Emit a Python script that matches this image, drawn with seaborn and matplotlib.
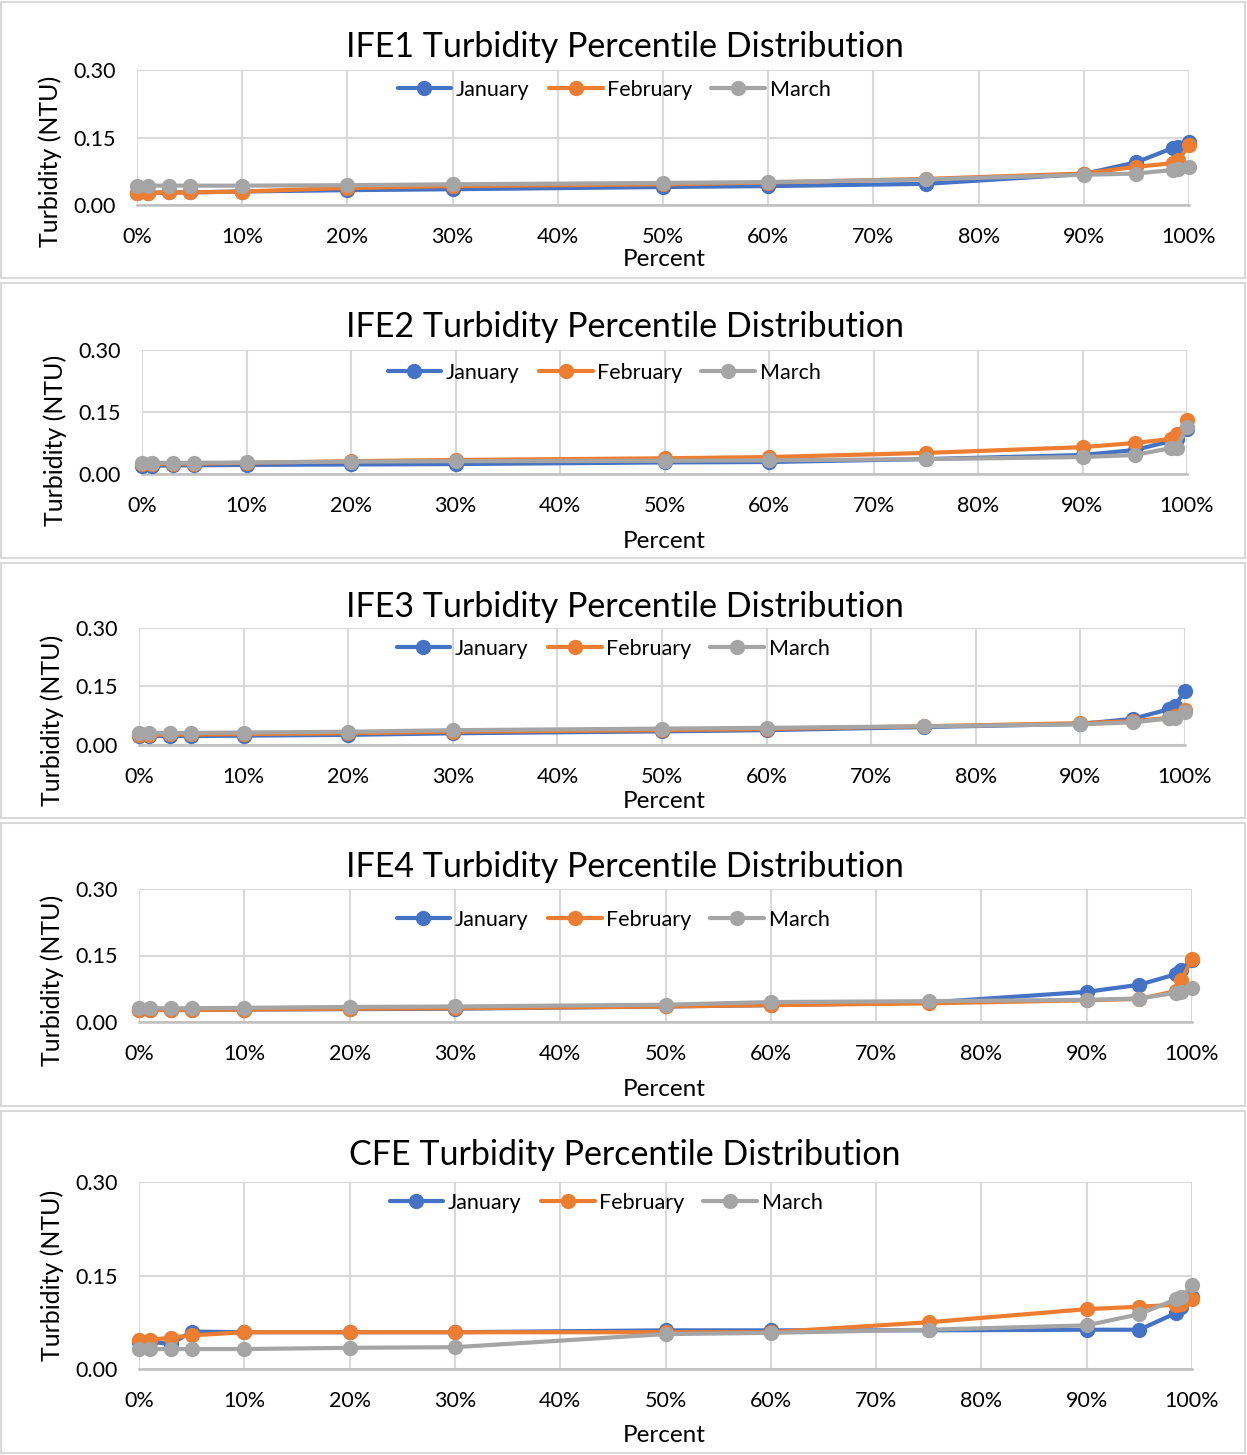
import numpy as np
import pandas as pd
import matplotlib
matplotlib.use("Agg")
import matplotlib.pyplot as plt
from matplotlib.lines import Line2D
from matplotlib.patches import Rectangle
from matplotlib.ticker import FuncFormatter
import seaborn as sns

# percentile positions (x) shared by every chart
percent = [0, 1, 3, 5, 10, 20, 30, 50, 60, 75, 90, 95, 98.5, 99, 100]
months = ["January", "February", "March"]

titles = ["IFE1 Turbidity Percentile Distribution",
          "IFE2 Turbidity Percentile Distribution",
          "IFE3 Turbidity Percentile Distribution",
          "IFE4 Turbidity Percentile Distribution",
          "CFE Turbidity Percentile Distribution"]

# turbidity values (NTU)
ife1_jan = [0.027, 0.027, 0.028, 0.028, 0.030, 0.033, 0.035, 0.040, 0.042, 0.047, 0.069, 0.095, 0.127, 0.130, 0.140]
ife1_feb = [0.027, 0.027, 0.028, 0.028, 0.030, 0.038, 0.042, 0.046, 0.050, 0.058, 0.070, 0.085, 0.093, 0.100, 0.133]
ife1_mar = [0.042, 0.043, 0.043, 0.043, 0.043, 0.044, 0.046, 0.049, 0.051, 0.057, 0.067, 0.070, 0.078, 0.079, 0.084]

ife2_jan = [0.020, 0.020, 0.021, 0.021, 0.022, 0.023, 0.024, 0.028, 0.029, 0.036, 0.046, 0.058, 0.080, 0.085, 0.110]
ife2_feb = [0.024, 0.024, 0.025, 0.025, 0.027, 0.031, 0.034, 0.038, 0.041, 0.051, 0.065, 0.075, 0.085, 0.097, 0.130]
ife2_mar = [0.027, 0.027, 0.027, 0.027, 0.028, 0.030, 0.031, 0.032, 0.033, 0.036, 0.041, 0.046, 0.063, 0.064, 0.113]

ife3_jan = [0.023, 0.023, 0.023, 0.023, 0.024, 0.026, 0.030, 0.035, 0.038, 0.046, 0.054, 0.067, 0.092, 0.100, 0.138]
ife3_feb = [0.026, 0.026, 0.027, 0.027, 0.028, 0.030, 0.034, 0.038, 0.041, 0.048, 0.056, 0.061, 0.070, 0.074, 0.090]
ife3_mar = [0.030, 0.030, 0.031, 0.031, 0.032, 0.034, 0.038, 0.042, 0.044, 0.048, 0.053, 0.058, 0.068, 0.070, 0.085]

ife4_jan = [0.027, 0.027, 0.027, 0.027, 0.028, 0.029, 0.030, 0.035, 0.038, 0.044, 0.068, 0.084, 0.108, 0.118, 0.140]
ife4_feb = [0.027, 0.027, 0.027, 0.027, 0.028, 0.030, 0.031, 0.035, 0.038, 0.042, 0.049, 0.052, 0.070, 0.095, 0.142]
ife4_mar = [0.031, 0.031, 0.031, 0.031, 0.032, 0.034, 0.035, 0.039, 0.045, 0.047, 0.050, 0.053, 0.066, 0.067, 0.077]

cfe_jan = [0.044, 0.044, 0.040, 0.060, 0.059, 0.059, 0.059, 0.062, 0.062, 0.062, 0.063, 0.063, 0.090, 0.100, 0.115]
cfe_feb = [0.047, 0.047, 0.050, 0.054, 0.059, 0.059, 0.059, 0.059, 0.059, 0.075, 0.096, 0.100, 0.103, 0.105, 0.112]
cfe_mar = [0.032, 0.032, 0.032, 0.032, 0.032, 0.034, 0.035, 0.056, 0.058, 0.063, 0.070, 0.088, 0.112, 0.115, 0.135]

series = [[ife1_jan, ife1_feb, ife1_mar],
          [ife2_jan, ife2_feb, ife2_mar],
          [ife3_jan, ife3_feb, ife3_mar],
          [ife4_jan, ife4_feb, ife4_mar],
          [cfe_jan, cfe_feb, cfe_mar]]

colors = {"January": "#4472C4", "February": "#ED7D31", "March": "#A5A5A5"}

# layout in pixels: plot left, right, top, bottom, title y, legend x/y, xlabel y,
# ylabel x/y, box top/bottom
layout = [
    dict(L=137, R=1189, T=70, B=205, ty=47, lx=614, ly=90, xl=260, yx=50, yy=161, bt=2, bb=278),
    dict(L=142, R=1187, T=350, B=474, ty=327, lx=604, ly=373, xl=541, yx=55, yy=440, bt=283, bb=558),
    dict(L=139, R=1185, T=628, B=745, ty=607, lx=613, ly=649, xl=801, yx=52, yy=720, bt=563, bb=818),
    dict(L=139, R=1192, T=889, B=1022, ty=867, lx=613, ly=920, xl=1089, yx=52, yy=980, bt=823, bb=1106),
    dict(L=139, R=1192, T=1182, B=1369, ty=1155, lx=606, ly=1203, xl=1435, yx=52, yy=1275, bt=1111, bb=1453),
]

W, H = 1247, 1455
sns.set_style("white")
plt.rcParams["font.family"] = ["Lato", "DejaVu Sans"]
plt.rcParams["text.color"] = "black"

fig = plt.figure(figsize=(W / 100, H / 100), dpi=100)

def fx(x):
    return x / W

def fy(y):
    return 1 - y / H

for i, lay in enumerate(layout):
    # chart border box
    fig.patches.append(Rectangle((fx(1), fy(lay["bb"])), fx(1244), (lay["bb"] - lay["bt"]) / H,
                                 transform=fig.transFigure, fill=False,
                                 edgecolor="#D9D9D9", linewidth=1.5))

    ax = fig.add_axes([fx(lay["L"]), fy(lay["B"]), (lay["R"] - lay["L"]) / W, (lay["B"] - lay["T"]) / H])
    rows = []
    for m, vals in zip(months, series[i]):
        for p, v in zip(percent, vals):
            rows.append({"Percent": p, "Turbidity": v, "Month": m})
    df = pd.DataFrame(rows)
    sns.lineplot(data=df, x="Percent", y="Turbidity", hue="Month", palette=colors,
                 marker="o", markersize=11, markeredgewidth=0, linewidth=3,
                 legend=False, ax=ax, clip_on=False, zorder=3)

    ax.set_xlim(0, 100)
    ax.set_ylim(0, 0.30)
    ax.set_xticks(np.arange(0, 101, 10))
    ax.set_yticks([0, 0.15, 0.30])
    ax.xaxis.set_major_formatter(FuncFormatter(lambda v, _: f"{v:.0f}%"))
    ax.yaxis.set_major_formatter(FuncFormatter(lambda v, _: f"{v:.2f}"))
    ax.grid(True, color="#D9D9D9", linewidth=1.5)
    ax.set_axisbelow(True)
    for s in ["top", "right", "left"]:
        ax.spines[s].set_visible(False)
    ax.spines["bottom"].set_color("#BFBFBF")
    ax.spines["bottom"].set_linewidth(1.8)
    ax.tick_params(axis="x", length=0, pad=16, labelsize=15.5, colors="black")
    ax.tick_params(axis="y", length=0, pad=15, labelsize=15.5, colors="black")
    ax.set_xlabel("")
    ax.set_ylabel("")

    fig.text(fx(625), fy(lay["ty"]), titles[i], ha="center", va="center", fontsize=24.5)
    fig.text(fx(664), fy(lay["xl"]), "Percent", ha="center", va="center", fontsize=17.5)
    fig.text(fx(lay["yx"]), fy(lay["yy"]), "Turbidity (NTU)", rotation=90,
             ha="center", va="center", fontsize=18)

    handles = [Line2D([0], [0], color=colors[m], marker="o", markersize=11,
                      markeredgewidth=0, linewidth=3) for m in months]
    fig.legend(handles, months, loc="center", bbox_to_anchor=(fx(lay["lx"]), fy(lay["ly"])),
               ncol=3, frameon=False, fontsize=15.5, handlelength=2.5, handletextpad=0.2,
               columnspacing=0.9, borderaxespad=0)

fig.savefig("out.png", dpi=100)
